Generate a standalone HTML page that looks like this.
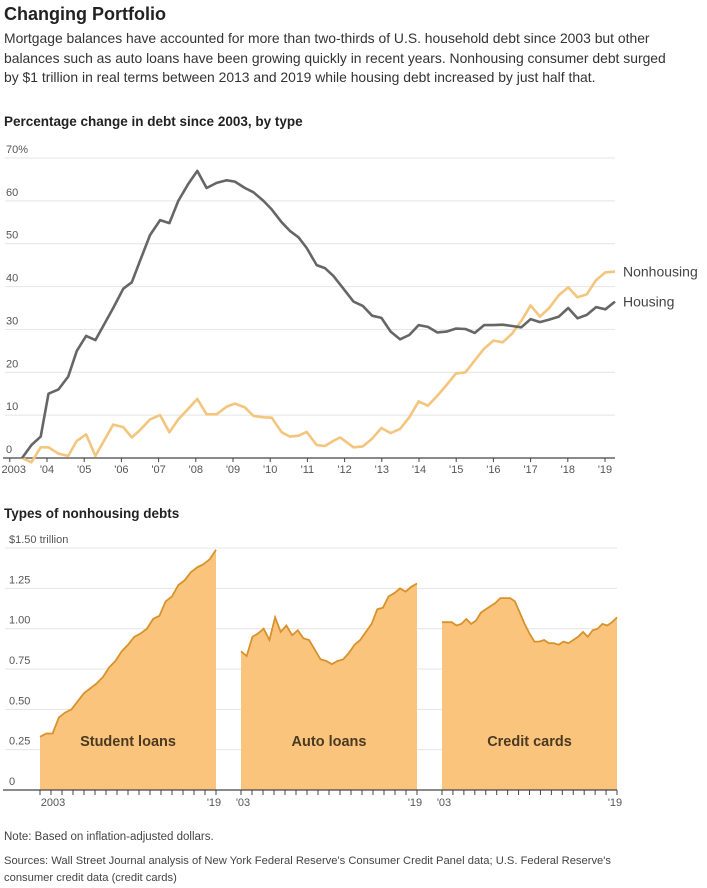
<!DOCTYPE html>
<html><head><meta charset="utf-8">
<style>
body{margin:0;background:#fff;width:707px;height:888px;overflow:hidden;font-family:"Liberation Sans",sans-serif;color:#222}
.t{position:absolute;left:4px;margin:0}
</style></head><body>
<div class="t" style="top:4px;font-size:18px;font-weight:bold;color:#222">Changing Portfolio</div>
<div class="t" style="top:29px;font-size:13.9px;line-height:19.5px;color:#333;white-space:nowrap">Mortgage balances have accounted for more than two-thirds of U.S. household debt since 2003 but other<br>balances such as auto loans have been growing quickly in recent years. Nonhousing consumer debt surged<br>by $1 trillion in real terms between 2013 and 2019 while housing debt increased by just half that.</div>
<div class="t" style="top:114px;font-size:13.5px;font-weight:bold">Percentage change in debt since 2003, by type</div>
<div class="t" style="top:506px;font-size:13.5px;font-weight:bold">Types of nonhousing debts</div>
<div class="t" style="top:831px;font-size:11.5px;color:#444">Note: Based on inflation-adjusted dollars.</div>
<div class="t" style="top:853px;font-size:11.2px;line-height:17px;color:#444;white-space:nowrap">Sources: Wall Street Journal analysis of New York Federal Reserve's Consumer Credit Panel data; U.S. Federal Reserve's<br>consumer credit data (credit cards)</div>
<svg id="topc" width="707" height="500" style="position:absolute;left:0;top:0"></svg>
<svg id="botc" width="707" height="830" style="position:absolute;left:0;top:0"></svg>
<script>
const years=[2003.33,2003.58,2003.83,2004.04,2004.31,2004.57,2004.80,2005.05,2005.30,2005.78,2006.05,2006.28,2006.50,2006.77,2007.04,2007.29,2007.53,2007.80,2008.04,2008.29,2008.56,2008.83,2009.05,2009.32,2009.55,2009.82,2010.04,2010.31,2010.53,2010.76,2010.98,2011.25,2011.47,2011.70,2011.88,2012.24,2012.49,2012.74,2012.99,2013.24,2013.49,2013.74,2013.99,2014.24,2014.49,2014.74,2014.99,2015.25,2015.50,2015.75,2016.00,2016.25,2016.50,2016.75,2017.00,2017.25,2017.50,2017.76,2018.01,2018.26,2018.51,2018.76,2019.01,2019.27];
const housing=[0,3,5,15,16,19,25,28.5,27.5,35,39.5,41,46,52,55.5,54.8,60,64,67,63,64.2,64.8,64.5,63,62,60,58,55,53,51.5,49,45,44.3,42.5,40.5,36.5,35.5,33.2,32.7,29.5,27.7,28.7,31,30.6,29.3,29.5,30.2,30.1,29.2,31,31,31.1,30.8,30.5,32.4,31.7,32.3,33,35,32.6,33.4,35.2,34.7,36.5];
const nonhousing=[0,-1,2.5,2.5,1,0.5,4,5.5,0.5,7.8,7.2,4.8,6.5,9,10,6,9,11.5,13.8,10.2,10.2,12,12.7,11.8,9.8,9.5,9.4,6,5,5.2,6.1,3,2.8,4,4.8,2.5,2.7,4.5,7,5.8,6.8,9.5,13.2,12.2,14.5,17,19.7,20,22.8,25.5,27.4,27,29,32,35.6,33,35,38,39.8,37.5,38.2,41.5,43.3,43.5];
const yTicks=[0,10,20,30,40,50,60,70];
const xTickYears=[2003,2004,2005,2006,2007,2008,2009,2010,2011,2012,2013,2014,2015,2016,2017,2018,2019];
const xTickLabels=["2003","'04","'05","'06","'07","'08","'09","'10","'11","'12","'13","'14","'15","'16","'17","'18","'19"];

const student=[0.33,0.35,0.35,0.45,0.48,0.50,0.55,0.60,0.63,0.66,0.70,0.76,0.80,0.86,0.90,0.95,0.97,1.00,1.06,1.08,1.17,1.20,1.27,1.30,1.35,1.38,1.40,1.43,1.49];
const auto=[0.86,0.83,0.95,0.97,1.00,0.93,1.07,0.98,1.02,0.96,0.99,0.94,0.93,0.87,0.81,0.80,0.78,0.80,0.81,0.85,0.90,0.93,0.98,1.03,1.12,1.13,1.20,1.22,1.25,1.23,1.26,1.28];
const credit=[1.04,1.04,1.04,1.02,1.03,1.06,1.03,1.05,1.10,1.12,1.14,1.16,1.19,1.19,1.19,1.17,1.10,1.03,0.97,0.92,0.92,0.93,0.91,0.91,0.90,0.92,0.91,0.93,0.95,0.98,0.95,0.99,1.00,1.03,1.02,1.04,1.07];
const panelNames=["Student loans","Auto loans","Credit cards"];
const bTicks=[0,0.25,0.5,0.75,1.0,1.25,1.5];
const bTickLabels=["0","0.25","0.50","0.75","1.00","1.25","$1.50 trillion"];

const NS="http://www.w3.org/2000/svg";
function mk(p,tag,a,txt){const e=document.createElementNS(NS,tag);for(const k in a)e.setAttribute(k,a[k]);if(txt!=null)e.textContent=txt;p.appendChild(e);return e;}
const topSvg=document.getElementById('topc');
const X=y=>47+(y-2004)*37.2;
const Y=v=>458-v*4.2857;
yTicks.forEach(t=>{
 const g=mk(topSvg,'line',{x1:5,x2:615,y1:Y(t),y2:Y(t),stroke:'#e4e4e4','stroke-width':1});
 
 
 const l=mk(topSvg,'text',{x:6,y:Y(t)-5,'font-size':11,fill:'#555'},t===70?'70%':String(t));
 
 
});
const ax=mk(topSvg,'line',{x1:3,x2:615,y1:458,y2:458,stroke:'#444','stroke-width':1.2});


xTickYears.forEach((y,i)=>{
 const tk=mk(topSvg,'line',{x1:X(y),x2:X(y),y1:458,y2:462,stroke:'#444'});
 
 
 const l=mk(topSvg,'text',{x:i===0?X(y)+4:X(y),y:473,'font-size':11,fill:'#555','text-anchor':'middle'},xTickLabels[i]);
 
 
});
function line(vals,color,name){
 const d=vals.map((v,i)=>(i?'L':'M')+X(years[i]).toFixed(1)+','+Y(v).toFixed(1)).join('');
 const p=mk(topSvg,'path',{d:d,fill:'none',stroke:color,'stroke-width':2.6,'stroke-linejoin':'round'});
 
 
}
line(nonhousing,'#f3c57d','nonhousing-line');
line(housing,'#666','housing-line');
const ln=mk(topSvg,'text',{x:623,y:Y(nonhousing[nonhousing.length-1])+5,'font-size':14,fill:'#444'},'Nonhousing');


const lh=mk(topSvg,'text',{x:623,y:Y(housing[housing.length-1])+5,'font-size':14,fill:'#444'},'Housing');


const botSvg=document.getElementById('botc');
const BY=v=>790-v*161.3;
bTicks.forEach((t,i)=>{
 const g=mk(botSvg,'line',{x1:5,x2:617,y1:BY(t),y2:BY(t),stroke:'#e4e4e4'});
 
 
 const l=mk(botSvg,'text',{x:9,y:BY(t)-5,'font-size':11,fill:'#555'},bTickLabels[i]);
 
 
});
const panels=[[40,216,student],[241,417,auto],[442,617,credit]];
panels.forEach((p,pi)=>{
 const [x0,x1,vals]=p;
 const PX=i=>x0+(x1-x0)*i/(vals.length-1);
 let d='M'+x0+','+BY(0);
 vals.forEach((v,i)=>d+='L'+PX(i).toFixed(1)+','+BY(v).toFixed(1));
 d+='L'+x1+','+BY(0)+'Z';
 const a=mk(botSvg,'path',{d:d,fill:'#fbc47d'});
 
 
 const s=mk(botSvg,'path',{d:vals.map((v,i)=>(i?'L':'M')+PX(i).toFixed(1)+','+BY(v).toFixed(1)).join(''),fill:'none',stroke:'#d8922c','stroke-width':1.8});
 
 
 const lb=mk(botSvg,'text',{x:(x0+x1)/2,y:746,'font-size':14.5,'font-weight':'bold','text-anchor':'middle',fill:'#4a3a22'},panelNames[pi]);
 
 
 for(let k=0;k<=16;k++){
  const tx=x0+(x1-x0)*k/16;
  const tk=mk(botSvg,'line',{x1:tx,x2:tx,y1:790,y2:795,stroke:'#444'});
  
  
 }
 const l0=mk(botSvg,'text',{x:x0+(pi===0?13:2),y:806,'font-size':11,fill:'#555','text-anchor':'middle'},pi===0?'2003':"'03");
 
 
 const l1=mk(botSvg,'text',{x:x1-2,y:806,'font-size':11,fill:'#555','text-anchor':'middle'},"'19");
 
 
});
const bax=mk(botSvg,'line',{x1:3,x2:617,y1:790,y2:790,stroke:'#444','stroke-width':1.2});


</script>
</body></html>
